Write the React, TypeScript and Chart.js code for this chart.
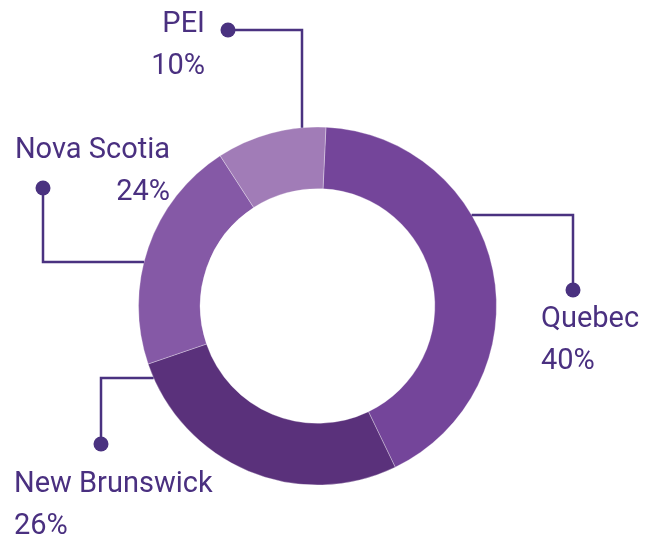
import React, { useEffect, useRef } from 'react';
import { Chart, registerables } from 'chart.js';

Chart.register(...registerables);

// Data
const provinces = ['Quebec', 'New Brunswick', 'Nova Scotia', 'PEI'];
const shares = [42.1, 26.9, 21.1, 9.9]; // arc sizes as drawn
const percentLabels = ['40%', '26%', '24%', '10%'];
const sliceColors = ['#74459a', '#5a317b', '#8559a6', '#a17cb7'];

const TEXT_COLOR = '#4a3080';
const LINE_COLOR = '#4a3280';
const FONT = '29px Roboto, "Noto Sans", sans-serif';

// Callout layout (offsets relative to the doughnut centre)
type Callout = {
  kind: 'v' | 'h';
  at: number;
  elbow: number;
  dot: number;
  side: 1 | -1;
  textX: number;
  textY: number;
  align: CanvasTextAlign;
};

const callouts: Callout[] = [
  { kind: 'h', at: -91, elbow: 255.5, dot: -16, side: 1, textX: 223.5, textY: 21, align: 'left' },
  { kind: 'h', at: 72, elbow: -216.5, dot: 138, side: -1, textX: -303.5, textY: 186, align: 'left' },
  { kind: 'h', at: -44, elbow: -274.5, dot: -118, side: -1, textX: -147.5, textY: -148, align: 'right' },
  { kind: 'v', at: -15.5, elbow: -276, dot: -89.5, side: -1, textX: -112.5, textY: -274, align: 'right' },
];

const calloutPlugin = {
  id: 'callouts',
  afterDatasetsDraw(chart: any) {
    const meta = chart.getDatasetMeta(0);
    const ctx: CanvasRenderingContext2D = chart.ctx;
    meta.data.forEach((arc: any, i: number) => {
      const c = callouts[i];
      if (!c) return;
      const cx = arc.x;
      const cy = arc.y;
      const R = arc.outerRadius;
      let sx: number, sy: number, ex: number, ey: number, dx: number, dy: number;
      if (c.kind === 'v') {
        sx = cx + c.at;
        sy = cy - Math.sqrt(R * R - c.at * c.at);
        ex = sx;
        ey = cy + c.elbow;
        dx = cx + c.dot;
        dy = ey;
      } else {
        sy = cy + c.at;
        sx = cx + c.side * Math.sqrt(R * R - c.at * c.at);
        ex = cx + c.elbow;
        ey = sy;
        dx = ex;
        dy = cy + c.dot;
      }
      ctx.save();
      ctx.strokeStyle = LINE_COLOR;
      ctx.lineWidth = 2.5;
      ctx.beginPath();
      ctx.moveTo(sx, sy);
      ctx.lineTo(ex, ey);
      ctx.lineTo(dx, dy);
      ctx.stroke();
      ctx.fillStyle = LINE_COLOR;
      ctx.beginPath();
      ctx.arc(dx, dy, 7.5, 0, Math.PI * 2);
      ctx.fill();

      ctx.fillStyle = TEXT_COLOR;
      ctx.font = FONT;
      ctx.textAlign = c.align;
      ctx.textBaseline = 'alphabetic';
      ctx.fillText(provinces[i], cx + c.textX, cy + c.textY);
      ctx.fillText(percentLabels[i], cx + c.textX, cy + c.textY + 42);
      ctx.restore();
    });
  },
};

export default function App() {
  const ref = useRef<HTMLCanvasElement | null>(null);
  useEffect(() => {
    if (!ref.current) return;
    const chart = new Chart(ref.current, {
      type: 'doughnut',
      data: {
        labels: provinces,
        datasets: [
          {
            data: shares,
            backgroundColor: sliceColors,
            borderColor: 'rgba(255,255,255,0.3)',
            borderWidth: 1,
          },
        ],
      },
      options: {
        responsive: false,
        animation: false,
        radius: 179,
        cutout: 117,
        rotation: 2.7,
        layout: { padding: { left: 138.5, right: 158.5, top: 127, bottom: 50 } },
        plugins: {
          legend: { display: false },
          tooltip: { enabled: false },
        },
      } as any,
      plugins: [calloutPlugin],
    });
    return () => chart.destroy();
  }, []);
  return (
    <div style={{ position: 'fixed', left: 0, top: 0, width: 655, height: 535, background: '#fff' }}>
      <canvas ref={ref} width={655} height={535} style={{ display: 'block' }} />
    </div>
  );
}
